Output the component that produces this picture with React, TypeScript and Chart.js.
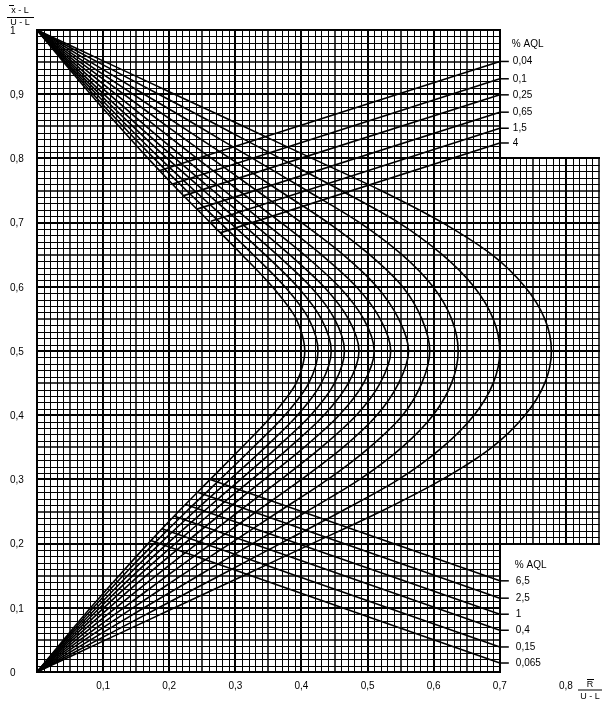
import React, { useEffect, useRef } from "react";
import { Chart, registerables } from "chart.js";

Chart.register(...registerables);

// ---------- data ----------
const Y_LEVELS = [1, 0.95, 0.9, 0.85, 0.8, 0.75, 0.7, 0.65, 0.6, 0.55, 0.5, 0.45, 0.4, 0.35, 0.3, 0.25, 0.2, 0.15, 0.1, 0.05, 0];

const X_0_04 = [0, 0.040, 0.081, 0.124, 0.168, 0.214, 0.262, 0.310, 0.356, 0.392, 0.405, 0.392, 0.356, 0.310, 0.262, 0.214, 0.168, 0.124, 0.081, 0.040, 0];
const X_0_065 = [0, 0.042, 0.085, 0.130, 0.177, 0.226, 0.277, 0.327, 0.375, 0.411, 0.425, 0.411, 0.375, 0.327, 0.277, 0.226, 0.177, 0.130, 0.085, 0.042, 0];
const X_0_1 = [0, 0.044, 0.090, 0.137, 0.186, 0.238, 0.292, 0.345, 0.394, 0.430, 0.445, 0.430, 0.394, 0.345, 0.292, 0.238, 0.186, 0.137, 0.090, 0.044, 0];
const X_0_15 = [0, 0.047, 0.095, 0.145, 0.197, 0.252, 0.308, 0.363, 0.414, 0.450, 0.465, 0.450, 0.414, 0.363, 0.308, 0.252, 0.197, 0.145, 0.095, 0.047, 0];
const X_0_25 = [0, 0.050, 0.101, 0.154, 0.209, 0.266, 0.325, 0.382, 0.434, 0.471, 0.487, 0.471, 0.434, 0.382, 0.325, 0.266, 0.209, 0.154, 0.101, 0.050, 0];
const X_0_4 = [0, 0.054, 0.109, 0.165, 0.223, 0.283, 0.344, 0.404, 0.457, 0.494, 0.510, 0.494, 0.457, 0.404, 0.344, 0.283, 0.223, 0.165, 0.109, 0.054, 0];
const X_0_65 = [0, 0.059, 0.119, 0.180, 0.242, 0.305, 0.369, 0.430, 0.483, 0.519, 0.535, 0.519, 0.483, 0.430, 0.369, 0.305, 0.242, 0.180, 0.119, 0.059, 0];
const X_1 = [0, 0.065, 0.131, 0.197, 0.264, 0.332, 0.400, 0.463, 0.514, 0.547, 0.562, 0.547, 0.514, 0.463, 0.400, 0.332, 0.264, 0.197, 0.131, 0.065, 0];
const X_1_5 = [0, 0.072, 0.145, 0.218, 0.292, 0.366, 0.440, 0.503, 0.553, 0.582, 0.594, 0.582, 0.553, 0.503, 0.440, 0.366, 0.292, 0.218, 0.145, 0.072, 0];
const X_2_5 = [0, 0.081, 0.162, 0.244, 0.326, 0.408, 0.488, 0.552, 0.599, 0.627, 0.637, 0.627, 0.599, 0.552, 0.488, 0.408, 0.326, 0.244, 0.162, 0.081, 0];
const X_4 = [0, 0.092, 0.184, 0.276, 0.368, 0.460, 0.547, 0.613, 0.661, 0.690, 0.700, 0.690, 0.661, 0.613, 0.547, 0.460, 0.368, 0.276, 0.184, 0.092, 0];
const X_6_5 = [0, 0.104, 0.208, 0.312, 0.416, 0.520, 0.613, 0.688, 0.738, 0.768, 0.778, 0.768, 0.738, 0.688, 0.613, 0.520, 0.416, 0.312, 0.208, 0.104, 0];

const CURVES = [X_0_04, X_0_065, X_0_1, X_0_15, X_0_25, X_0_4, X_0_65, X_1, X_1_5, X_2_5, X_4, X_6_5];

// upper-right labelled lines
const UPPER_LABELS = ["0,04", "0,1", "0,25", "0,65", "1,5", "4"];
const UPPER_START_X = [0.186, 0.205, 0.222, 0.242, 0.263, 0.277];
const UPPER_START_Y = [0.781, 0.760, 0.742, 0.721, 0.702, 0.684];
const UPPER_END_Y = [0.951, 0.924, 0.899, 0.872, 0.847, 0.824];

// lower-right labelled lines
const LOWER_LABELS = ["6,5", "2,5", "1", "0,4", "0,15", "0,065"];
const LOWER_START_X = [0.262, 0.243, 0.225, 0.207, 0.189, 0.172];
const LOWER_START_Y = [0.300, 0.280, 0.261, 0.243, 0.223, 0.205];
const LOWER_END_Y = [0.142, 0.115, 0.09, 0.065, 0.039, 0.014];

const LINE_END_X = 0.7;

const X_TICKS = [0.1, 0.2, 0.3, 0.4, 0.5, 0.6, 0.7, 0.8];
const X_TICK_LABELS = ["0,1", "0,2", "0,3", "0,4", "0,5", "0,6", "0,7", "0,8"];
const Y_TICKS = [0, 0.1, 0.2, 0.3, 0.4, 0.5, 0.6, 0.7, 0.8, 0.9, 1];
const Y_TICK_LABELS = ["0", "0,1", "0,2", "0,3", "0,4", "0,5", "0,6", "0,7", "0,8", "0,9", "1"];

const X_MAX = 0.85;
const EXT_Y_TOP = 0.8;
const EXT_Y_BOTTOM = 0.2;
const GRID_STEP = 0.01;

const FONT = '10px "Liberation Sans", Arial, sans-serif';
const SMALL_FONT = '9px "Liberation Sans", Arial, sans-serif';

// ---------- plugin ----------
function widthFor(k: number) {
  if (k % 10 === 0) return 2;
  if (k % 5 === 0) return 1.5;
  return 1;
}
function crisp(p: number, w: number) {
  return w % 2 === 1 ? Math.round(p) + 0.5 : Math.round(p);
}

const paperPlugin = {
  id: "paper",
  beforeDraw(chart: any) {
    const { ctx, width, height } = chart;
    ctx.save();
    ctx.fillStyle = "#fff";
    ctx.fillRect(0, 0, width, height);
    ctx.restore();
  },
  beforeDatasetsDraw(chart: any) {
    const { ctx } = chart;
    const xs = chart.scales.x;
    const ys = chart.scales.y;
    const nx = Math.round(X_MAX / GRID_STEP);
    const ny = Math.round(1 / GRID_STEP);
    const kExtX = Math.round(LINE_END_X / GRID_STEP);
    const kExtB = Math.round(EXT_Y_BOTTOM / GRID_STEP);
    const kExtT = Math.round(EXT_Y_TOP / GRID_STEP);
    ctx.save();
    ctx.strokeStyle = "#000";
    ctx.lineCap = "square";
    // vertical lines
    for (let k = 0; k <= nx; k++) {
      const v = k * GRID_STEP;
      const w = widthFor(k);
      const px = crisp(xs.getPixelForValue(v), w);
      const yLo = k <= kExtX ? 0 : EXT_Y_BOTTOM;
      const yHi = k <= kExtX ? 1 : EXT_Y_TOP;
      ctx.lineWidth = w;
      ctx.beginPath();
      ctx.moveTo(px, ys.getPixelForValue(yLo));
      ctx.lineTo(px, ys.getPixelForValue(yHi));
      ctx.stroke();
    }
    // horizontal lines
    for (let k = 0; k <= ny; k++) {
      const v = k * GRID_STEP;
      const w = widthFor(k);
      const py = crisp(ys.getPixelForValue(v), w);
      const xHi = k >= kExtB && k <= kExtT ? X_MAX : LINE_END_X;
      ctx.lineWidth = w;
      ctx.beginPath();
      ctx.moveTo(xs.getPixelForValue(0), py);
      ctx.lineTo(xs.getPixelForValue(xHi), py);
      ctx.stroke();
    }
    ctx.restore();
  },
  afterDraw(chart: any) {
    const { ctx } = chart;
    const xs = chart.scales.x;
    const ys = chart.scales.y;
    ctx.save();
    ctx.fillStyle = "#000";
    ctx.strokeStyle = "#000";
    ctx.font = FONT;

    // y tick labels
    ctx.textAlign = "left";
    ctx.textBaseline = "middle";
    Y_TICKS.forEach((v, i) => {
      ctx.fillText(Y_TICK_LABELS[i], 10, ys.getPixelForValue(v) + 1);
    });
    // x tick labels
    ctx.textAlign = "center";
    const yb = ys.getPixelForValue(0);
    X_TICKS.forEach((v, i) => {
      ctx.fillText(X_TICK_LABELS[i], xs.getPixelForValue(v), yb + 14);
    });

    // leader dashes and AQL labels
    const xe = xs.getPixelForValue(LINE_END_X);
    ctx.lineWidth = 1.5;
    ctx.textAlign = "left";
    UPPER_END_Y.forEach((v, i) => {
      const py = ys.getPixelForValue(v);
      ctx.beginPath();
      ctx.moveTo(xe, py);
      ctx.lineTo(xe + 9, py);
      ctx.stroke();
      ctx.fillText(UPPER_LABELS[i], xe + 13, py);
    });
    ctx.fillText("% AQL", xe + 12, ys.getPixelForValue(UPPER_END_Y[0]) - 17);
    LOWER_END_Y.forEach((v, i) => {
      const py = ys.getPixelForValue(v);
      ctx.beginPath();
      ctx.moveTo(xe, py);
      ctx.lineTo(xe + 9, py);
      ctx.stroke();
      ctx.fillText(LOWER_LABELS[i], xe + 16, py);
    });
    ctx.fillText("% AQL", xe + 15, ys.getPixelForValue(LOWER_END_Y[0]) - 16);

    // y axis title (top-left fraction)
    ctx.font = SMALL_FONT;
    ctx.textAlign = "center";
    ctx.lineWidth = 1;
    const cx = 20;
    ctx.fillText("x - L", cx, 11);
    ctx.beginPath();
    ctx.moveTo(cx - 11, 5.5);
    ctx.lineTo(cx - 6, 5.5);
    ctx.stroke();
    ctx.beginPath();
    ctx.moveTo(7, 17.5);
    ctx.lineTo(34, 17.5);
    ctx.stroke();
    ctx.fillText("U - L", cx, 23);

    // x axis title (bottom-right fraction)
    const fx = 590;
    const fy = yb + 18;
    ctx.fillText("R", fx, fy - 5);
    ctx.beginPath();
    ctx.moveTo(fx - 3, fy - 10.5);
    ctx.lineTo(fx + 4, fy - 10.5);
    ctx.stroke();
    ctx.beginPath();
    ctx.moveTo(fx - 12, fy);
    ctx.lineTo(fx + 12, fy);
    ctx.stroke();
    ctx.fillText("U - L", fx, fy + 7);
    ctx.restore();
  },
};

export default function App() {
  const canvasRef = useRef<HTMLCanvasElement | null>(null);

  useEffect(() => {
    if (!canvasRef.current) return;
    const datasets: any[] = [];
    CURVES.forEach((xs) => {
      datasets.push({
        data: xs.map((x, i) => ({ x, y: Y_LEVELS[i] })),
        showLine: true,
        borderColor: "#000",
        borderWidth: 1.6,
        pointRadius: 0,
        tension: 0.3,
        fill: false,
      });
    });
    UPPER_END_Y.forEach((ye, i) => {
      datasets.push({
        data: [
          { x: UPPER_START_X[i], y: UPPER_START_Y[i] },
          { x: LINE_END_X, y: ye },
        ],
        showLine: true,
        borderColor: "#000",
        borderWidth: 1.6,
        pointRadius: 0,
        fill: false,
      });
    });
    LOWER_END_Y.forEach((ye, i) => {
      datasets.push({
        data: [
          { x: LOWER_START_X[i], y: LOWER_START_Y[i] },
          { x: LINE_END_X, y: ye },
        ],
        showLine: true,
        borderColor: "#000",
        borderWidth: 1.6,
        pointRadius: 0,
        fill: false,
      });
    });

    const chart = new Chart(canvasRef.current, {
      type: "scatter",
      data: { datasets },
      options: {
        animation: false,
        responsive: false,
        devicePixelRatio: 1,
        layout: { padding: { left: 37, top: 30, right: 6, bottom: 31 } },
        plugins: { legend: { display: false }, tooltip: { enabled: false } },
        events: [],
        scales: {
          x: {
            type: "linear",
            min: 0,
            max: X_MAX,
            ticks: { display: false },
            grid: { display: false, drawTicks: false },
            border: { display: false },
          },
          y: {
            type: "linear",
            min: 0,
            max: 1,
            ticks: { display: false },
            grid: { display: false, drawTicks: false },
            border: { display: false },
          },
        },
      },
      plugins: [paperPlugin],
    } as any);
    return () => chart.destroy();
  }, []);

  return (
    <div style={{ position: "fixed", left: 0, top: 0, width: 605, height: 703, background: "#fff" }}>
      <canvas ref={canvasRef} width={605} height={703} style={{ display: "block" }} />
    </div>
  );
}
